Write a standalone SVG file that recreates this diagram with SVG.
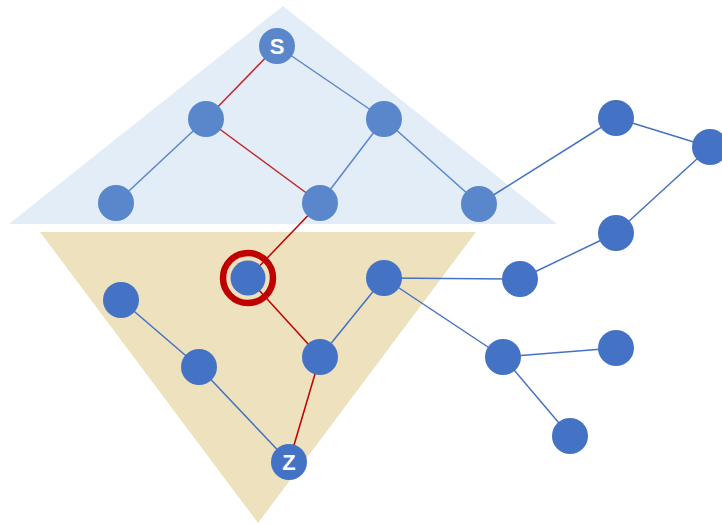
<svg xmlns="http://www.w3.org/2000/svg" width="722" height="525" viewBox="0 0 722 525">
  <style>
    .edge { stroke-width: 1.5; fill: none; }
    .blue { stroke: #4472C4; }
    .blue-lt { stroke: #5B86CB; }
    .red { stroke: #C00000; }
    .red-lt { stroke: #C4262C; }
    .node { fill: #4472C4; }
    .node-lt { fill: #5A86CB; }
    .label { font-family: "Liberation Sans", Arial, sans-serif; font-weight: bold; font-size: 22px; fill: #FFFFFF; text-anchor: middle; }
  </style>

  <!-- regions -->
  <polygon id="upper-region" points="283,6 557,224 9,224" fill="#E2EDF8"/>
  <polygon id="lower-region" points="40,232 476,232 258,523" fill="#EEE1BE"/>

  <!-- connectors -->
  <g id="connectors" class="edge">
    <line class="red-lt" x1="277" y1="46" x2="206" y2="119"/>
    <line class="blue-lt" x1="277" y1="46" x2="384" y2="119"/>
    <line class="blue-lt" x1="206" y1="119" x2="116" y2="203"/>
    <line class="red-lt" x1="206" y1="119" x2="320" y2="203"/>
    <line class="blue-lt" x1="384" y1="119" x2="320" y2="203"/>
    <line class="blue-lt" x1="384" y1="119" x2="479" y2="204"/>
    <line class="blue" x1="479" y1="204" x2="616" y2="118"/>
    <line class="blue" x1="616" y1="118" x2="710" y2="147"/>
    <line class="blue" x1="710" y1="147" x2="616" y2="233"/>
    <line class="blue" x1="616" y1="233" x2="520" y2="279"/>
    <line class="blue" x1="520" y1="279" x2="384" y2="278"/>
    <line class="red" x1="320" y1="203" x2="248" y2="278"/>
    <line class="red" x1="248" y1="278" x2="320" y2="357"/>
    <line class="blue" x1="320" y1="357" x2="384" y2="278"/>
    <line class="red" x1="320" y1="357" x2="289" y2="462"/>
    <line class="blue" x1="384" y1="278" x2="503" y2="357"/>
    <line class="blue" x1="503" y1="357" x2="616" y2="348"/>
    <line class="blue" x1="503" y1="357" x2="570" y2="436"/>
    <line class="blue" x1="121" y1="300" x2="199" y2="367"/>
    <line class="blue" x1="199" y1="367" x2="289" y2="462"/>
  </g>

  <!-- nodes -->
  <g id="node-s"><circle class="node-lt" cx="277" cy="46" r="18"/><text class="label" x="277" y="54">S</text></g>
  <g id="node-a1"><circle class="node-lt" cx="206" cy="119" r="18"/></g>
  <g id="node-a2"><circle class="node-lt" cx="384" cy="119" r="18"/></g>
  <g id="node-b1"><circle class="node-lt" cx="116" cy="203" r="18"/></g>
  <g id="node-b2"><circle class="node-lt" cx="320" cy="203" r="18"/></g>
  <g id="node-b3"><circle class="node-lt" cx="479" cy="204" r="18"/></g>
  <g id="node-r1"><circle class="node" cx="616" cy="118" r="18"/></g>
  <g id="node-r2"><circle class="node" cx="710" cy="147" r="18"/></g>
  <g id="node-r3"><circle class="node" cx="616" cy="233" r="18"/></g>
  <g id="node-r4"><circle class="node" cx="520" cy="279" r="18"/></g>
  <g id="node-m"><circle cx="248" cy="278" r="25" fill="none" stroke="#C00000" stroke-width="6.5"/><circle class="node" cx="248" cy="278" r="17.5"/></g>
  <g id="node-c"><circle class="node" cx="384" cy="278" r="18"/></g>
  <g id="node-d"><circle class="node" cx="320" cy="357" r="18"/></g>
  <g id="node-l1"><circle class="node" cx="121" cy="300" r="18"/></g>
  <g id="node-l2"><circle class="node" cx="199" cy="367" r="18"/></g>
  <g id="node-e"><circle class="node" cx="503" cy="357" r="18"/></g>
  <g id="node-e1"><circle class="node" cx="616" cy="348" r="18"/></g>
  <g id="node-e2"><circle class="node" cx="570" cy="436" r="18"/></g>
  <g id="node-z"><circle class="node" cx="289" cy="462" r="18"/><text class="label" x="289" y="470">Z</text></g>
</svg>
